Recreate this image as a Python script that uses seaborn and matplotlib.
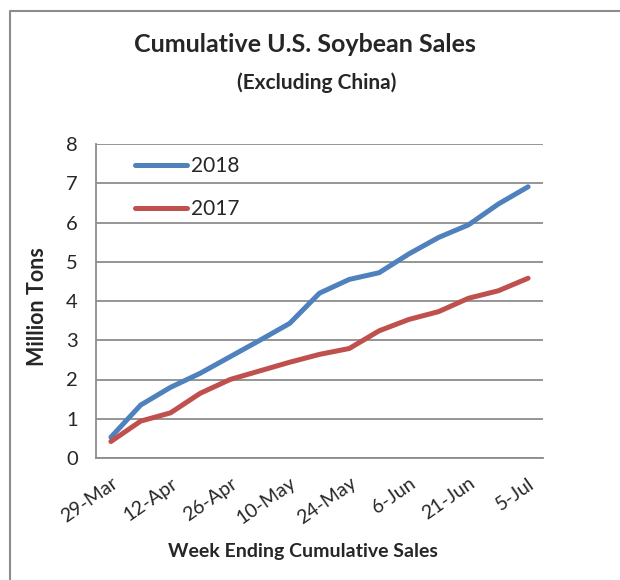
import numpy as np
import pandas as pd
import matplotlib
matplotlib.use("Agg")
import matplotlib.pyplot as plt
import seaborn as sns
from matplotlib.lines import Line2D

weeks = ["29-Mar", "5-Apr", "12-Apr", "19-Apr", "26-Apr", "3-May", "10-May", "17-May",
         "24-May", "31-May", "6-Jun", "14-Jun", "21-Jun", "28-Jun", "5-Jul"]
sales_2018 = [0.53, 1.35, 1.80, 2.16, 2.58, 3.00, 3.43, 4.20, 4.55, 4.72, 5.20, 5.62, 5.94, 6.47, 6.91]
sales_2017 = [0.42, 0.94, 1.15, 1.65, 2.00, 2.22, 2.44, 2.64, 2.79, 3.24, 3.53, 3.73, 4.07, 4.26, 4.58]
years = ["2018", "2017"]
colors = ["#4F81BD", "#C0504D"]

df = pd.DataFrame({
    "week": weeks * 2,
    "tons": sales_2018 + sales_2017,
    "year": ["2018"] * len(weeks) + ["2017"] * len(weeks),
})

sns.set_style("white")
plt.rcParams["font.family"] = ["Lato", "DejaVu Sans"]

fig = plt.figure(figsize=(6.2, 5.8), dpi=100)
ax = fig.add_axes([96 / 620, 1 - 458 / 580, (543 - 96) / 620, (458 - 144) / 580])

sns.lineplot(data=df, x="week", y="tons", hue="year", hue_order=years,
             palette=colors, linewidth=3.6, ax=ax, sort=False)

ax.set_ylim(0, 8)
ax.set_xlim(-0.5, len(weeks) - 0.5)
ax.set_yticks(range(0, 9))
ax.yaxis.grid(True, color="#8c8c8c", linewidth=1.3)
ax.set_axisbelow(True)
ax.tick_params(axis="y", labelsize=14.5, length=7, width=1.3, color="#8c8c8c", direction="out", pad=6)

ax.set_xticks(range(0, len(weeks), 2))
ax.set_xticklabels(weeks[::2], rotation=35, ha="right", rotation_mode="anchor", fontsize=14)
ax.set_xticks(np.arange(-0.5, len(weeks), 1), minor=True)
ax.tick_params(axis="x", which="major", length=0, pad=12)
ax.tick_params(axis="x", which="minor", length=6, width=1.3, color="#8c8c8c", direction="out")

for s in ["top", "right"]:
    ax.spines[s].set_visible(False)
for s in ["left", "bottom"]:
    ax.spines[s].set_color("#8c8c8c")
    ax.spines[s].set_linewidth(1.3)

ax.set_xlabel("")
ax.set_ylabel("")
ax.legend(title=None, loc="upper left", bbox_to_anchor=(0.045, 1.02), frameon=False,
          fontsize=15, handlelength=2.5, labelspacing=1.1, handletextpad=0.2)

fig.text(305 / 620, 1 - 45 / 580, "Cumulative U.S. Soybean Sales", ha="center", va="center",
         fontsize=18, fontweight="bold")
fig.text(317 / 620, 1 - 83 / 580, "(Excluding China)", ha="center", va="center",
         fontsize=15, fontweight="bold")
fig.text(38 / 620, 1 - 307 / 580, "Million Tons", ha="center", va="center", rotation=90,
         fontsize=15.5, fontweight="bold")
fig.text(303 / 620, 1 - 551 / 580, "Week Ending Cumulative Sales", ha="center", va="center",
         fontsize=14, fontweight="bold")

fig.add_artist(Line2D([10 / 620, 10 / 620, 1], [0, 1 - 11 / 580, 1 - 11 / 580],
                      transform=fig.transFigure, color="#8c8c8c", linewidth=1.5))

fig.savefig("out.png", dpi=100)
